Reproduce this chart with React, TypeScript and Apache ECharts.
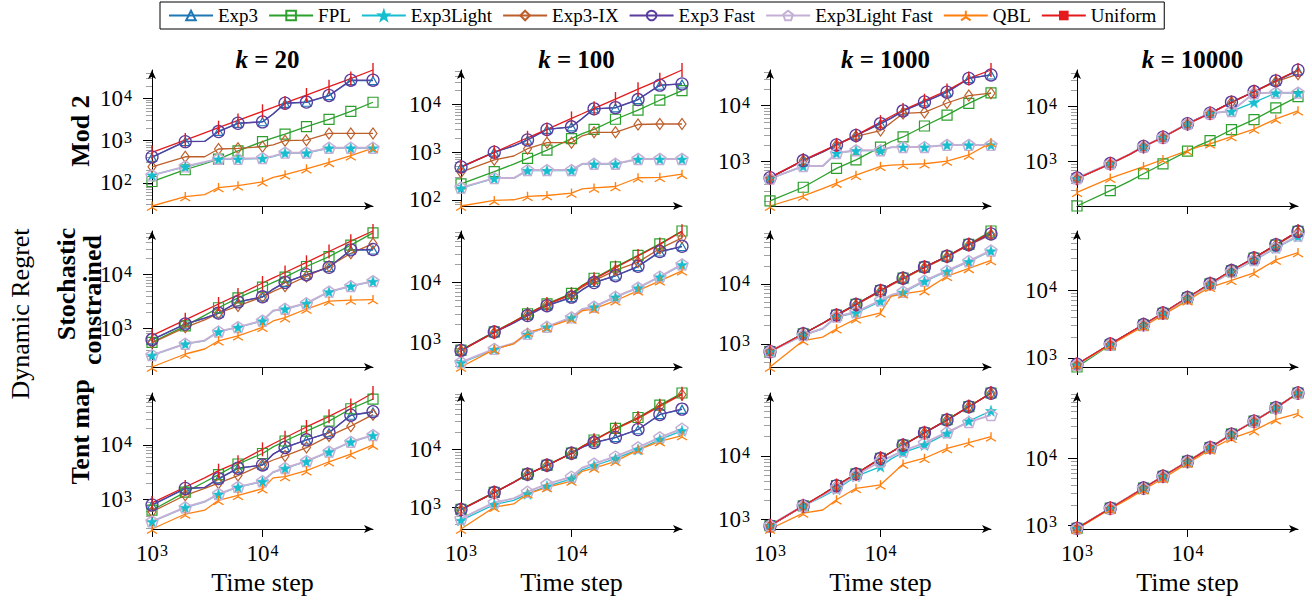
import React, { useEffect, useRef } from "react";
import * as echarts from "echarts";

const TIME_STEPS = [1000, 2000, 3000, 4000, 6000, 10000, 12500, 16000, 25000, 40000, 63000, 100000];
const MARKED = [1, 1, 0, 1, 1, 1, 0, 1, 1, 1, 1, 1];
const SERIES_NAMES = ["Exp3", "FPL", "Exp3Light", "Exp3-IX", "Exp3 Fast", "Exp3Light Fast", "QBL", "Uniform"];
const K_LABELS = ["20", "100", "1000", "10000"];
const X_TICKS = [1000, 10000];
const Y_MAJOR = [10, 100, 1000, 10000, 100000];

// order: Exp3, FPL, Exp3Light, Exp3-IX, Exp3 Fast, Exp3Light Fast, QBL, Uniform
const MOD2_K20 = [
  [400, 960, 970, 1670, 2580, 2830, 4300, 7700, 8200, 11800, 26800, 26800],
  [107, 204, 283, 365, 575, 950, 1160, 1440, 2150, 3200, 5000, 8200],
  [152, 240, 305, 365, 365, 380, 420, 510, 510, 670, 670, 670],
  [240, 415, 415, 635, 660, 720, 800, 1000, 1030, 1490, 1490, 1490],
  [410, 950, 960, 1650, 2600, 2800, 4400, 7800, 8300, 11900, 27500, 27500],
  [150, 245, 310, 370, 370, 385, 430, 520, 520, 680, 680, 680],
  [28, 47, 52, 77, 85, 105, 134, 155, 215, 305, 440, 670],
  [525, 1035, 1540, 2040, 3030, 5000, 6200, 7900, 12200, 19300, 30000, 48000],
];
const MOD2_K100 = [
  [480, 1000, 1350, 1800, 3000, 3400, 5100, 8100, 8500, 12700, 25300, 27000],
  [215, 390, 560, 740, 1100, 1920, 2450, 3000, 4900, 7600, 12300, 19600],
  [175, 280, 280, 410, 410, 410, 560, 560, 560, 710, 710, 710],
  [380, 690, 830, 1180, 1580, 1580, 2200, 2600, 2600, 3800, 3900, 3900],
  [490, 1000, 1350, 1800, 3000, 3400, 5100, 8100, 8600, 12700, 25500, 27000],
  [180, 285, 285, 420, 420, 420, 570, 570, 570, 720, 720, 720],
  [74, 97, 100, 118, 123, 138, 170, 177, 190, 290, 296, 345],
  [490, 990, 1500, 2000, 3000, 5100, 6400, 8300, 13000, 21000, 33000, 53000],
];
const MOD2_K1000 = [
  [520, 1050, 1500, 2000, 2950, 4800, 6000, 8100, 11700, 17500, 30700, 35500],
  [200, 350, 550, 760, 1080, 1820, 2300, 2770, 4350, 6800, 11000, 17000],
  [500, 830, 830, 1420, 1580, 1580, 1800, 1820, 1820, 2000, 2000, 2000],
  [520, 1050, 1500, 2000, 2850, 3600, 5000, 7300, 7600, 11200, 15200, 16800],
  [520, 1050, 1500, 2000, 2950, 4800, 6000, 8100, 11700, 17500, 30700, 35500],
  [500, 840, 840, 1430, 1600, 1600, 1810, 1830, 1830, 2000, 2000, 2000],
  [162, 245, 330, 415, 575, 830, 870, 890, 920, 1030, 1320, 2200],
  [520, 1070, 1550, 2000, 2950, 5100, 6500, 8400, 12300, 18700, 30700, 43500],
];
const MOD2_K10000 = [
  [490, 910, 1350, 1870, 2770, 4850, 6000, 7550, 12000, 18700, 29000, 45000],
  [155, 295, 440, 600, 910, 1550, 1950, 2400, 3800, 5800, 9500, 15200],
  [490, 910, 1350, 1870, 2770, 4850, 6000, 7550, 8200, 12000, 17700, 17700],
  [490, 910, 1350, 1870, 2770, 4850, 6000, 7550, 12000, 18500, 28500, 39000],
  [500, 920, 1360, 1880, 2780, 4900, 6100, 7600, 12100, 18800, 29500, 46000],
  [500, 920, 1360, 1880, 2780, 4900, 6000, 7600, 8300, 17500, 18000, 18000],
  [275, 500, 660, 810, 1090, 1580, 1850, 2100, 2850, 3900, 5980, 8400],
  [490, 910, 1350, 1870, 2770, 4850, 6000, 7550, 12000, 18700, 29700, 46500],
];
const STOCH_K20 = [
  [615, 1200, 1550, 1920, 3100, 3870, 5400, 7200, 10000, 13600, 28800, 28800],
  [550, 1120, 1750, 2430, 3700, 5850, 7200, 9000, 14200, 21700, 35600, 60000],
  [315, 515, 590, 870, 1050, 1380, 2130, 2300, 2930, 4800, 6100, 7500],
  [540, 1050, 1450, 1920, 2620, 3870, 4900, 6100, 9300, 14400, 25000, 38000],
  [620, 1210, 1560, 1930, 3120, 3880, 5400, 7200, 10000, 13700, 29000, 29500],
  [320, 520, 600, 880, 1060, 1400, 2150, 2330, 2950, 4850, 6150, 7600],
  [192, 335, 415, 590, 730, 1050, 1380, 1590, 2300, 3230, 3380, 3450],
  [735, 1450, 2150, 2850, 4200, 7000, 8700, 11000, 17000, 27000, 42000, 65000],
];
const STOCH_K100 = [
  [725, 1470, 2100, 2800, 4100, 5600, 7500, 10000, 12900, 18500, 32500, 40000],
  [740, 1490, 2220, 3000, 4400, 6600, 9000, 11800, 18300, 28500, 44500, 73000],
  [450, 760, 950, 1360, 1800, 2580, 3550, 3900, 5700, 8100, 12400, 19800],
  [720, 1440, 2150, 2900, 4250, 6200, 8400, 10800, 16000, 22000, 37000, 56000],
  [730, 1480, 2100, 2800, 4100, 5700, 7600, 10000, 13000, 18700, 33000, 40500],
  [465, 775, 960, 1380, 1820, 2610, 3600, 3940, 5780, 8200, 12600, 20200],
  [385, 760, 940, 1470, 1780, 2450, 3370, 3610, 4960, 7300, 10700, 15700],
  [725, 1470, 2200, 2960, 4360, 6400, 8800, 11400, 17800, 27800, 43500, 72000],
];
const STOCH_K1000 = [
  [740, 1470, 2200, 3000, 4530, 7700, 9800, 12400, 19000, 28800, 45000, 68000],
  [740, 1470, 2200, 3000, 4530, 7700, 9800, 12400, 19000, 28800, 45400, 76000],
  [740, 1380, 1780, 2780, 3280, 5100, 6300, 7200, 11000, 16100, 23400, 35300],
  [740, 1460, 2180, 2950, 4450, 7500, 9500, 12000, 18500, 28000, 44000, 66000],
  [740, 1470, 2200, 3000, 4530, 7700, 9800, 12400, 19000, 28800, 45000, 68000],
  [750, 1400, 1800, 2850, 3400, 5300, 6500, 7400, 11300, 16500, 24000, 36000],
  [410, 1130, 1290, 1780, 2610, 3280, 6200, 6800, 7700, 13400, 18100, 24500],
  [740, 1470, 2200, 3000, 4530, 7700, 9800, 12400, 19000, 28800, 45400, 72000],
];
const STOCH_K10000 = [
  [800, 1600, 2350, 3100, 4600, 7800, 9700, 12500, 19500, 30000, 47000, 74000],
  [730, 1550, 2300, 3050, 4550, 7700, 9600, 12400, 19300, 29800, 46500, 74000],
  [780, 1550, 2300, 3000, 4450, 7500, 9300, 12000, 18500, 27500, 42000, 62000],
  [790, 1590, 2330, 3080, 4580, 7750, 9650, 12400, 19300, 29500, 46000, 72000],
  [800, 1600, 2350, 3100, 4600, 7800, 9700, 12500, 19500, 30000, 47000, 74000],
  [790, 1570, 2320, 3050, 4500, 7600, 9400, 12200, 18800, 28000, 43000, 64000],
  [800, 1550, 2250, 2900, 4300, 7000, 8800, 11000, 14000, 18000, 28000, 36000],
  [800, 1600, 2350, 3100, 4600, 7800, 9700, 12500, 19500, 30000, 47000, 75000],
];
const TENT_K20 = [
  [790, 1580, 1650, 2400, 3730, 4280, 6770, 8950, 12300, 16700, 34900, 40000],
  [640, 1370, 2100, 2870, 4480, 6970, 9200, 11800, 17900, 27200, 45900, 69000],
  [395, 715, 910, 1250, 1690, 2140, 3160, 3730, 4990, 7460, 11300, 14900],
  [600, 1200, 1600, 2000, 2750, 4350, 5300, 6300, 8950, 14500, 22000, 35700],
  [800, 1600, 1670, 2420, 3750, 4300, 6800, 9000, 12400, 16800, 35000, 40500],
  [400, 725, 920, 1270, 1710, 2170, 3200, 3780, 5050, 7550, 11400, 15100],
  [290, 545, 640, 970, 1200, 1580, 2500, 2640, 3380, 4920, 6770, 10000],
  [870, 1700, 2500, 3380, 4800, 8300, 10500, 13500, 21300, 33300, 52500, 89000],
];
const TENT_K100 = [
  [900, 1780, 2680, 3680, 5250, 8500, 10800, 13000, 15900, 21800, 39700, 49000],
  [920, 1800, 2720, 3720, 5300, 8600, 11300, 14500, 23000, 35500, 58000, 94000],
  [590, 1110, 1310, 1700, 2300, 3090, 4400, 5200, 6900, 9900, 14800, 20900],
  [900, 1780, 2680, 3680, 5250, 8500, 11100, 14300, 22400, 34000, 55000, 88000],
  [910, 1790, 2700, 3700, 5290, 8550, 10900, 13100, 16100, 22000, 40000, 49500],
  [635, 1210, 1420, 1850, 2500, 3360, 4800, 5660, 7500, 10800, 16100, 22700],
  [420, 1000, 1140, 1700, 2190, 2830, 4170, 4740, 6200, 9800, 13700, 17300],
  [910, 1790, 2700, 3700, 5290, 8550, 11200, 14400, 22700, 34900, 56500, 91000],
];
const TENT_K1000 = [
  [800, 1640, 2480, 3420, 5200, 9100, 11400, 14700, 23000, 36500, 59000, 96000],
  [810, 1650, 2500, 3440, 5230, 9200, 11500, 14800, 23100, 36900, 59400, 97000],
  [810, 1650, 2300, 3000, 4770, 6800, 9000, 11300, 14800, 22600, 35300, 51000],
  [800, 1640, 2480, 3420, 5200, 9100, 11400, 14700, 23000, 36500, 59000, 96000],
  [800, 1640, 2480, 3420, 5200, 9100, 11400, 14700, 23000, 36500, 59000, 96000],
  [820, 1660, 2400, 3200, 5000, 8200, 9800, 12000, 16000, 23500, 34000, 43700],
  [715, 1270, 1420, 2060, 3110, 3530, 5040, 7500, 9200, 13100, 16100, 20000],
  [810, 1650, 2500, 3440, 5230, 9200, 11500, 14800, 23100, 36900, 59400, 97000],
];
const TENT_K10000 = [
  [900, 1800, 2700, 3600, 5400, 9000, 11200, 14500, 23000, 36000, 57000, 95000],
  [900, 1800, 2700, 3600, 5400, 9000, 11200, 14500, 23000, 36000, 57000, 95000],
  [900, 1800, 2700, 3600, 5400, 9000, 11200, 14500, 23000, 36000, 57000, 95000],
  [900, 1800, 2700, 3600, 5400, 9000, 11200, 14500, 23000, 36000, 57000, 95000],
  [900, 1800, 2700, 3600, 5400, 9000, 11200, 14500, 23000, 36000, 57000, 95000],
  [900, 1800, 2700, 3600, 5400, 9000, 11200, 14500, 23000, 36000, 57000, 95000],
  [880, 1750, 2550, 3400, 5000, 8500, 10500, 13500, 20000, 26000, 38000, 47000],
  [900, 1800, 2700, 3600, 5400, 9000, 11200, 14500, 23000, 36000, 57000, 95000],
];

const PANELS = [
  [MOD2_K20, MOD2_K100, MOD2_K1000, MOD2_K10000],
  [STOCH_K20, STOCH_K100, STOCH_K1000, STOCH_K10000],
  [TENT_K20, TENT_K100, TENT_K1000, TENT_K10000],
];

const SERIF = '"Liberation Serif", "DejaVu Serif", serif';
const COLORS = ["#1f77b4", "#2ca02c", "#17becf", "#bd5f2b", "#5a3d9e", "#c5b0d5", "#ff7f0e", "#e41a1c"];
const STAR = "path://M50,0 L61.8,35.3 L97.6,34.5 L69,56.5 L79.4,90.5 L50,70 L20.6,90.5 L31,56.5 L2.4,34.5 L38.2,35.3 Z";
const PENTAGON = "path://M50,0 L97.6,34.5 L79.4,90.5 L20.6,90.5 L2.4,34.5 Z";
const TRI = "path://M50,0 L50,55 M50,55 L2,83 M50,55 L98,83";
const BAR = "path://M0,0 L1,0 L1,10 L0,10 Z";
const CLEAR = "rgba(0,0,0,0)";
const MARKS = [
  { symbol: "triangle", size: [9, 8], fill: CLEAR, bw: 1.2 },
  { symbol: "rect", size: [10, 10], fill: CLEAR, bw: 1.2 },
  { symbol: STAR, size: [11, 11], fill: COLORS[2], bw: 0.5 },
  { symbol: "diamond", size: [8, 11], fill: CLEAR, bw: 1.2 },
  { symbol: "circle", size: [12, 12], fill: CLEAR, bw: 1.3 },
  { symbol: PENTAGON, size: [12, 11], fill: CLEAR, bw: 1.5 },
  { symbol: TRI, size: [10, 9], fill: CLEAR, bw: 1.3 },
  { symbol: BAR, size: [1.4, 14], fill: COLORS[7], bw: 0 },
];

const COL_LEFT = [152, 461, 770, 1077];
const ROW_TOP = [70, 231, 393];
const GRID_W = 221;
const GRID_H = 136;

const MINOR: number[] = [];
[10, 100, 1000, 10000].forEach((d) => {
  for (let m = 2; m <= 9; m++) MINOR.push(d * m);
});

const powLabel = (v: number) => `{b|10}{s|${Math.round(Math.log10(v))}}`;
const powRich = {
  b: { fontSize: 23, fontFamily: SERIF, color: "#000" },
  s: { fontSize: 16, fontFamily: SERIF, color: "#000", verticalAlign: "top", padding: [0, 0, 0, 1] },
};

function buildOption() {
  const grid: any[] = [];
  const xAxis: any[] = [];
  const yAxis: any[] = [];
  const series: any[] = [];
  let p = 0;
  for (let r = 0; r < 3; r++) {
    for (let c = 0; c < 4; c++) {
      const data = PANELS[r][c];
      const all = data.flat();
      const yMin = Math.min(...all);
      const yMax = Math.max(...all);
      const majors = Y_MAJOR.filter((v) => v >= yMin && v <= yMax);
      grid.push({ left: COL_LEFT[c], top: ROW_TOP[r], width: GRID_W, height: GRID_H, containLabel: false });
      xAxis.push({
        type: "log",
        gridIndex: p,
        min: 1000,
        max: 100000,
        axisLine: { show: true, symbol: ["none", "arrow"], symbolSize: [6, 9], lineStyle: { color: "#000", width: 1 } },
        axisTick: { show: true, customValues: X_TICKS, length: 8, lineStyle: { color: "#000" } },
        axisLabel: {
          show: r === 2,
          customValues: X_TICKS,
          formatter: powLabel,
          margin: 13,
          rich: powRich,
        },
        splitLine: { show: false },
        minorTick: { show: false },
        name: r === 2 ? "Time step" : "",
        nameLocation: "middle",
        nameGap: 40,
        nameTextStyle: { fontFamily: SERIF, fontSize: 26, color: "#000", verticalAlign: "top" },
      });
      yAxis.push({
        type: "log",
        gridIndex: p,
        min: yMin,
        max: yMax,
        position: "left",
        axisLine: { show: true, symbol: ["none", "arrow"], symbolSize: [6, 9], lineStyle: { color: "#000", width: 1 } },
        axisTick: { show: true, customValues: MINOR, length: 6, lineStyle: { color: "#888", width: 0.8 } },
        axisLabel: {
          show: true,
          customValues: majors,
          formatter: powLabel,
          margin: 20,
          rich: powRich,
        },
        splitLine: { show: false },
      });
      yAxis.push({
        type: "log",
        gridIndex: p,
        min: yMin,
        max: yMax,
        position: "left",
        axisLine: { show: false },
        axisTick: { show: true, customValues: majors, length: 9, lineStyle: { color: "#000", width: 1 } },
        axisLabel: { show: false },
        splitLine: { show: false },
      });
      for (let s = 0; s < 8; s++) {
        const m = MARKS[s];
        series.push({
          type: "line",
          name: SERIES_NAMES[s],
          xAxisIndex: p,
          yAxisIndex: 2 * p,
          data: TIME_STEPS.map((t, i) =>
            MARKED[i] ? [t, data[s][i]] : { value: [t, data[s][i]], symbol: "none" }
          ),
          symbol: m.symbol,
          symbolSize: m.size,
          showAllSymbol: true,
          clip: false,
          lineStyle: { color: COLORS[s], width: s === 5 ? 2 : 1.3 },
          itemStyle: { color: m.fill, borderColor: COLORS[s], borderWidth: m.bw },
          emphasis: { disabled: true },
        });
      }
      p++;
    }
  }

  const title = K_LABELS.map((k, c) => ({
    text: `{i|k}{n| = ${k}}`,
    left: COL_LEFT[c] + GRID_W / 2,
    top: 42,
    textAlign: "center",
    textStyle: {
      rich: {
        i: { fontFamily: SERIF, fontSize: 25, fontWeight: "bold", fontStyle: "italic", color: "#000" },
        n: { fontFamily: SERIF, fontSize: 25, fontWeight: "bold", color: "#000" },
      },
    },
  }));

  const textEl = (text: string, x: number, y: number, bold: boolean) => ({
    type: "text",
    x,
    y,
    rotation: Math.PI / 2,
    style: {
      text,
      fontFamily: SERIF,
      fontSize: 26,
      fontWeight: bold ? "bold" : "normal",
      fill: "#000",
      textAlign: "center",
      textVerticalAlign: "middle",
      align: "center",
      verticalAlign: "middle",
    },
  });

  const graphic = [
    textEl("Dynamic Regret", 20, 314, false),
    textEl("Mod 2", 80, 131, true),
    textEl("Stochastic", 66, 284, true),
    textEl("constrained", 92, 300, true),
    textEl("Tent map", 80, 432, true),
  ];

  return {
    animation: false,
    backgroundColor: "#fff",
    title,
    grid,
    xAxis,
    yAxis,
    series,
    graphic,
    legend: {
      data: SERIES_NAMES,
      left: 160,
      top: 2,
      itemWidth: 44,
      itemHeight: 12,
      itemGap: 10,
      padding: [4, 8],
      borderColor: "#000",
      borderWidth: 1,
      borderRadius: 0,
      selectedMode: false,
      textStyle: { fontFamily: SERIF, fontSize: 19, color: "#000" },
    },
  };
}

export default function App() {
  const ref = useRef<HTMLDivElement>(null);
  useEffect(() => {
    if (!ref.current) return;
    const chart = echarts.init(ref.current, undefined, { renderer: "svg" });
    chart.setOption(buildOption() as any);
    return () => chart.dispose();
  }, []);
  return (
    <div
      ref={ref}
      style={{ position: "absolute", left: 0, top: 0, width: 1312, height: 603, background: "#fff" }}
    />
  );
}
